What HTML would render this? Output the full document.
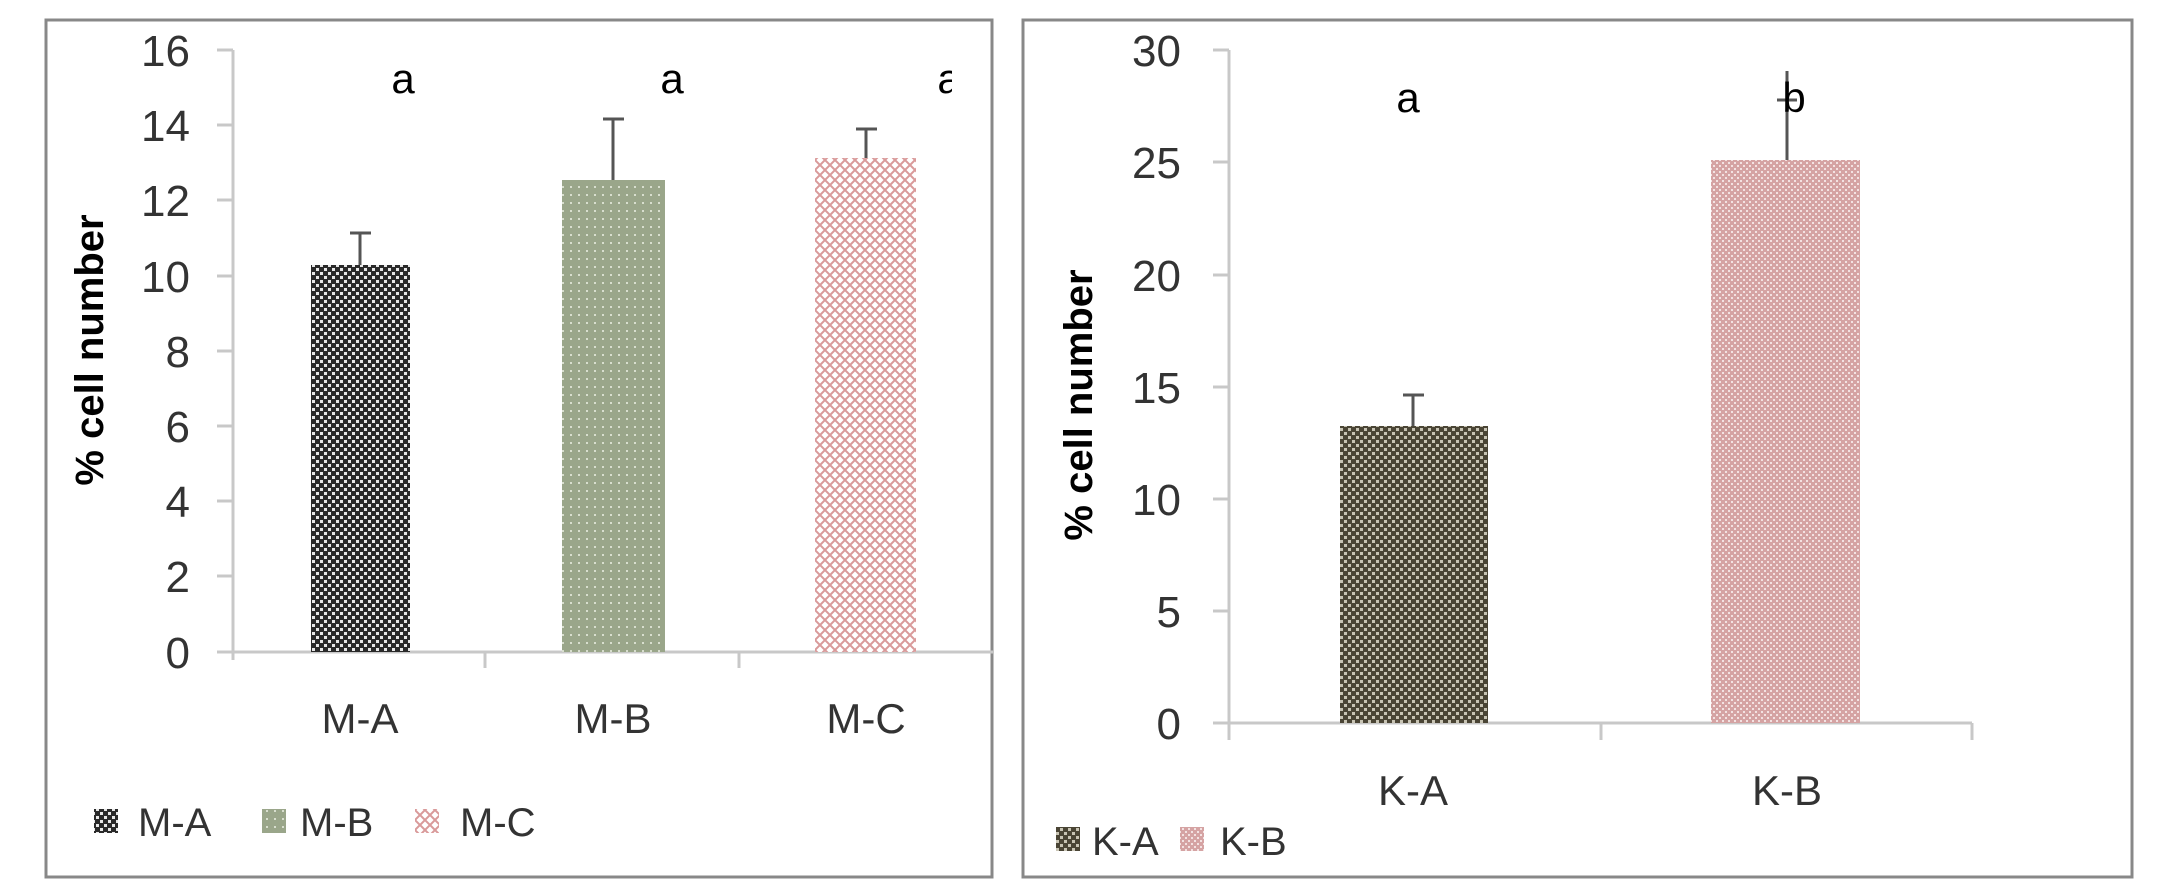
<!DOCTYPE html>
<html><head><meta charset="utf-8"><style>
html,body{margin:0;padding:0;background:#fff;}
svg{display:block;}
text{font-family:"Liberation Sans",sans-serif;}
</style></head><body>
<svg width="2180" height="883" viewBox="0 0 2180 883" xmlns="http://www.w3.org/2000/svg">
<defs>
<pattern id="pA" width="8" height="8" patternUnits="userSpaceOnUse">
<rect width="8" height="8" fill="#2a2a2a"/><rect x="0" y="0" width="3" height="3" fill="#e8e8e8"/><rect x="4" y="4" width="3" height="3" fill="#e8e8e8"/></pattern>
<pattern id="pB" width="8" height="8" patternUnits="userSpaceOnUse">
<rect width="8" height="8" fill="#9aa68a"/><rect x="2" y="2" width="2" height="2" fill="#d8dece"/></pattern>
<pattern id="pC" width="10" height="10" patternUnits="userSpaceOnUse">
<rect width="10" height="10" fill="#fff"/><path d="M0 5L5 0L10 5L5 10Z" fill="none" stroke="#d99a9a" stroke-width="2"/></pattern>
<pattern id="pKA" width="8" height="8" patternUnits="userSpaceOnUse">
<rect width="8" height="8" fill="#4a4535"/><rect x="0" y="0" width="3" height="3" fill="#c8c4b4"/><rect x="4" y="4" width="3" height="3" fill="#c8c4b4"/></pattern>
<pattern id="pKB" width="6" height="6" patternUnits="userSpaceOnUse">
<rect width="6" height="6" fill="#d5a3a3"/><rect x="0" y="0" width="2" height="2" fill="#f3e2e2"/><rect x="3" y="3" width="2" height="2" fill="#f3e2e2"/></pattern>
</defs>

<!-- Left panel -->
<rect x="46" y="20" width="946" height="857" fill="#fff" stroke="#888" stroke-width="3"/>
<g stroke="#c8c8c8" stroke-width="3" fill="none">
<line x1="233" y1="50" x2="233" y2="660"/>
<line x1="217" y1="652" x2="993" y2="652"/>
<line x1="217" y1="50" x2="233" y2="50"/><line x1="217" y1="125" x2="233" y2="125"/><line x1="217" y1="200" x2="233" y2="200"/><line x1="217" y1="276" x2="233" y2="276"/><line x1="217" y1="351" x2="233" y2="351"/><line x1="217" y1="426" x2="233" y2="426"/><line x1="217" y1="501" x2="233" y2="501"/><line x1="217" y1="576" x2="233" y2="576"/>
<line x1="485" y1="652" x2="485" y2="668"/><line x1="739" y1="652" x2="739" y2="668"/>
</g>
<g font-size="44" fill="#333" text-anchor="end">
<text x="190" y="66">16</text><text x="190" y="141">14</text><text x="190" y="216">12</text><text x="190" y="292">10</text><text x="190" y="367">8</text><text x="190" y="442">6</text><text x="190" y="517">4</text><text x="190" y="592">2</text><text x="190" y="668">0</text>
</g>
<text transform="translate(103,350) rotate(-90)" font-size="40" font-weight="bold" text-anchor="middle" fill="#000">% cell number</text>
<rect x="311" y="265" width="99" height="387" fill="url(#pA)"/>
<rect x="562" y="180" width="103" height="472" fill="url(#pB)"/>
<rect x="815" y="158" width="101" height="494" fill="url(#pC)"/>
<g stroke="#555" stroke-width="3">
<line x1="360" y1="265" x2="360" y2="233"/><line x1="350" y1="233" x2="371" y2="233"/>
<line x1="613" y1="180" x2="613" y2="119"/><line x1="603" y1="119" x2="624" y2="119"/>
<line x1="866" y1="158" x2="866" y2="129"/><line x1="856" y1="129" x2="877" y2="129"/>
</g>
<g font-size="42" fill="#000" text-anchor="middle">
<text x="403" y="93">a</text><text x="672" y="93">a</text>
</g>
<svg x="0" y="0" width="952" height="883" overflow="hidden"><text x="949" y="93" font-size="42" text-anchor="middle">a</text></svg>
<g font-size="42" fill="#333" text-anchor="middle">
<text x="360" y="733">M-A</text><text x="613" y="733">M-B</text><text x="866" y="733">M-C</text>
</g>
<rect x="94" y="809" width="24" height="24" fill="url(#pA)"/>
<rect x="262" y="809" width="24" height="24" fill="url(#pB)"/>
<rect x="415" y="809" width="24" height="24" fill="url(#pC)"/>
<g font-size="40" fill="#333">
<text x="138" y="836">M-A</text><text x="300" y="836">M-B</text><text x="460" y="836">M-C</text>
</g>

<!-- Right panel -->
<rect x="1023" y="20" width="1109" height="857" fill="#fff" stroke="#888" stroke-width="3"/>
<g stroke="#c8c8c8" stroke-width="3" fill="none">
<line x1="1229" y1="50" x2="1229" y2="740"/>
<line x1="1213" y1="723" x2="1972" y2="723"/>
<line x1="1972" y1="723" x2="1972" y2="740"/>
<line x1="1601" y1="723" x2="1601" y2="740"/>
<line x1="1213" y1="50" x2="1229" y2="50"/><line x1="1213" y1="162" x2="1229" y2="162"/><line x1="1213" y1="275" x2="1229" y2="275"/><line x1="1213" y1="387" x2="1229" y2="387"/><line x1="1213" y1="499" x2="1229" y2="499"/><line x1="1213" y1="611" x2="1229" y2="611"/>
</g>
<g font-size="44" fill="#333" text-anchor="end">
<text x="1181" y="66">30</text><text x="1181" y="178">25</text><text x="1181" y="291">20</text><text x="1181" y="403">15</text><text x="1181" y="515">10</text><text x="1181" y="627">5</text><text x="1181" y="739">0</text>
</g>
<text transform="translate(1092,405) rotate(-90)" font-size="40" font-weight="bold" text-anchor="middle" fill="#000">% cell number</text>
<rect x="1340" y="426" width="148" height="297" fill="url(#pKA)"/>
<rect x="1711" y="160" width="149" height="563" fill="url(#pKB)"/>
<g stroke="#555" stroke-width="3">
<line x1="1413" y1="426" x2="1413" y2="395"/><line x1="1403" y1="395" x2="1424" y2="395"/>
<line x1="1787" y1="160" x2="1787" y2="71"/><line x1="1777" y1="100" x2="1797" y2="100"/>
</g>
<g font-size="42" fill="#000" text-anchor="middle">
<text x="1408" y="112">a</text><text x="1794" y="112">b</text>
</g>
<g font-size="42" fill="#333" text-anchor="middle">
<text x="1413" y="805">K-A</text><text x="1787" y="805">K-B</text>
</g>
<rect x="1056" y="827" width="24" height="24" fill="url(#pKA)"/>
<rect x="1180" y="827" width="24" height="24" fill="url(#pKB)"/>
<g font-size="40" fill="#333">
<text x="1092" y="855">K-A</text><text x="1220" y="855">K-B</text>
</g>
</svg>
</body></html>
